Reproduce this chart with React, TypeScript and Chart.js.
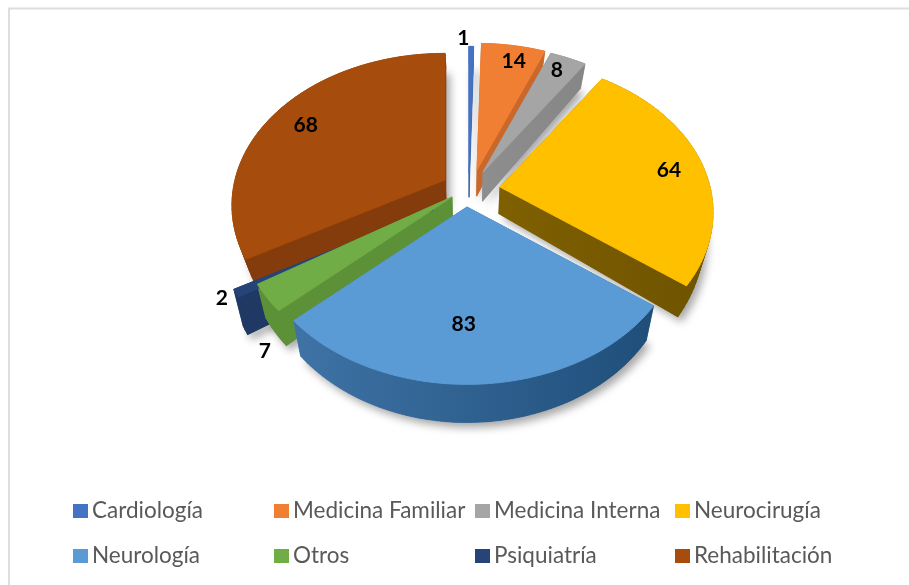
import React, { useEffect, useRef } from "react";
import { Chart, registerables } from "chart.js";

Chart.register(...registerables);

const categories = ["Cardiología", "Medicina Familiar", "Medicina Interna", "Neurocirugía", "Neurología", "Otros", "Psiquiatría", "Rehabilitación"];
const patients = [1, 14, 8, 64, 83, 7, 2, 68];

const topColors = ["#4472c4", "#f07f33", "#a5a5a5", "#ffc000", "#5b9bd5", "#70ad47", "#264478", "#a64c0c"];
const wallLeft = ["#3a62a8", "#c9682a", "#8e8e8e", "#7f6000", "#3f73a6", "#5c9138", "#1f3864", "#843c0c"];
const wallRight = ["#3a62a8", "#c9682a", "#868686", "#6e5300", "#1f4e79", "#5c9138", "#1f3864", "#843c0c"];
const explodeX = [-1, 7, 13, 30, -3, -18, -37, -25];
const explodeY = [-5, -8, -6, 9, 29, 19, 32, 2];
const depthBase = [25, 27, 30, 27, 30, 30, 33, 21];
const labelRadius = [1.07, 0.82, 0.85, 0.8, 0.55, 1.14, 1.12, 0.72];
const labelNudgeX = [-8, 6, 0, 7, -10, 27, 12, -16];
const labelNudgeY = [-1, -4, -3, 3, 28, 37, -6, -4];

const XS = 1.18;
const YS = 0.83;
const P = 0.167;
const warpFrom = [0, 126.8, 247.8, 261, 360];
const warpTo = [0, 127, 227, 240.6, 360];

function warp(deg: number) {
  for (let i = 1; i < warpFrom.length; i++) {
    if (deg <= warpFrom[i]) {
      const t = (deg - warpFrom[i - 1]) / (warpFrom[i] - warpFrom[i - 1]);
      return warpTo[i - 1] + t * (warpTo[i] - warpTo[i - 1]);
    }
  }
  return deg;
}

function project(arc: any, angle: number, r: number) {
  const phi = (warp(((angle + Math.PI / 2) * 180) / Math.PI) * Math.PI) / 180;
  const u = r * Math.sin(phi);
  const v = -r * Math.cos(phi);
  const w = 1 / (1 - P * v);
  return [arc.outerRadius * XS * u * w, arc.outerRadius * YS * v * w];
}

function facePoints(arc: any, i: number) {
  const pts: number[][] = [[arc.x + explodeX[i], arc.y + explodeY[i]]];
  const steps = Math.max(2, Math.ceil((arc.endAngle - arc.startAngle) / 0.03));
  for (let s = 0; s <= steps; s++) {
    const a = arc.startAngle + ((arc.endAngle - arc.startAngle) * s) / steps;
    const [x, y] = project(arc, a, 1);
    pts.push([arc.x + explodeX[i] + x, arc.y + explodeY[i] + y]);
  }
  return pts;
}

function lower(arc: any, p: number[], i: number) {
  const vv = (p[1] - 190) / 190;
  return [arc.x + (p[0] - arc.x) * 0.96, p[1] + depthBase[i] + 8 * vv];
}

function trace(ctx: CanvasRenderingContext2D, pts: number[][]) {
  ctx.beginPath();
  pts.forEach((p, n) => (n ? ctx.lineTo(p[0], p[1]) : ctx.moveTo(p[0], p[1])));
  ctx.closePath();
}

const pie3d = {
  id: "pie3d",
  beforeDatasetDraw(chart: any) {
    const ctx: CanvasRenderingContext2D = chart.ctx;
    const arcs: any[] = chart.getDatasetMeta(0).data;
    const mid = (i: number) => {
      const a = arcs[i];
      return project(a, (a.startAngle + a.endAngle) / 2, 1)[1];
    };
    const order = arcs.map((_, i) => i).sort((a, b) => mid(a) - mid(b));

    order.forEach((i) => {
      const arc = arcs[i];
      const top = facePoints(arc, i);
      const bot = top.map((p) => lower(arc, p, i));
      const xs = top.concat(bot).map((p) => p[0]);
      const grad = ctx.createLinearGradient(Math.min(...xs), 0, Math.max(...xs), 0);
      grad.addColorStop(0, wallLeft[i]);
      grad.addColorStop(1, wallRight[i]);

      ctx.save();
      ctx.shadowColor = "rgba(0,0,0,0.35)";
      ctx.shadowBlur = 9;
      ctx.shadowOffsetX = 4;
      ctx.shadowOffsetY = 5;
      ctx.fillStyle = grad;
      trace(ctx, bot);
      ctx.fill();
      ctx.restore();

      ctx.fillStyle = grad;
      ctx.strokeStyle = grad;
      ctx.lineWidth = 0.6;
      for (let n = 0; n < top.length; n++) {
        const m = (n + 1) % top.length;
        trace(ctx, [top[n], top[m], bot[m], bot[n]]);
        ctx.fill();
        ctx.stroke();
      }
    });

    order.forEach((i) => {
      ctx.fillStyle = topColors[i];
      ctx.strokeStyle = topColors[i];
      ctx.lineWidth = 1;
      trace(ctx, facePoints(arcs[i], i));
      ctx.fill();
      ctx.stroke();
    });
    return false;
  },
  afterDatasetsDraw(chart: any) {
    const ctx: CanvasRenderingContext2D = chart.ctx;
    const arcs: any[] = chart.getDatasetMeta(0).data;
    ctx.save();
    ctx.font = "bold 21px Lato";
    ctx.fillStyle = "#000";
    ctx.textAlign = "center";
    ctx.textBaseline = "middle";
    arcs.forEach((arc, i) => {
      const [x, y] = project(arc, (arc.startAngle + arc.endAngle) / 2, labelRadius[i]);
      ctx.fillText(
        String(patients[i]),
        arc.x + explodeX[i] + x + labelNudgeX[i],
        arc.y + explodeY[i] + y + labelNudgeY[i]
      );
    });
    ctx.restore();
  },
  afterDraw(chart: any) {
    const ctx: CanvasRenderingContext2D = chart.ctx;
    ctx.save();
    ctx.strokeStyle = "#dedede";
    ctx.lineWidth = 2;
    ctx.beginPath();
    ctx.moveTo(9, 585);
    ctx.lineTo(9, 8.5);
    ctx.lineTo(909, 8.5);
    ctx.stroke();
    ctx.font = "22.5px Lato";
    ctx.textBaseline = "middle";
    ctx.textAlign = "left";
    const colX = [73, 274, 475, 675];
    const rowY = [511, 556];
    categories.forEach((name, i) => {
      const x = colX[i % 4];
      const y = rowY[Math.floor(i / 4)];
      ctx.fillStyle = topColors[i];
      ctx.fillRect(x, y - 7, 15, 14);
      ctx.fillStyle = "#595959";
      ctx.fillText(name, x + 19, y);
    });
    ctx.restore();
  },
};

export default function App() {
  const ref = useRef<HTMLCanvasElement>(null);
  useEffect(() => {
    const chart = new Chart(ref.current!, {
      type: "pie",
      data: {
        labels: categories,
        datasets: [{ data: patients, backgroundColor: topColors, borderWidth: 0 }],
      },
      options: {
        responsive: false,
        animation: false,
        events: [],
        layout: { padding: { left: 31, right: 0, top: 0, bottom: 229 } },
        plugins: { legend: { display: false }, tooltip: { enabled: false } },
      },
      plugins: [pie3d],
    });
    return () => chart.destroy();
  }, []);
  return (
    <div style={{ position: "fixed", left: 0, top: 0, width: 909, height: 585, background: "#fff" }}>
      <canvas ref={ref} width={909} height={585} style={{ display: "block" }} />
    </div>
  );
}
